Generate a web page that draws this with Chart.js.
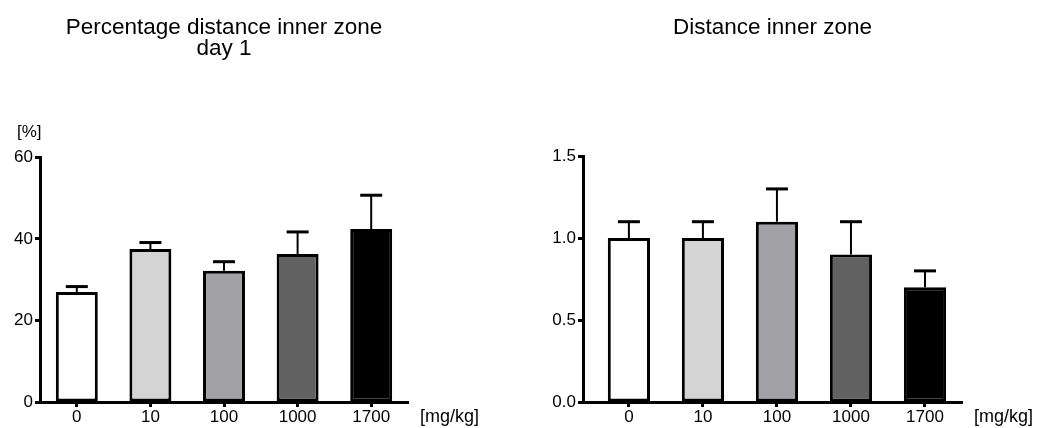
<!DOCTYPE html>
<html><head><meta charset="utf-8">
<script src="https://cdn.jsdelivr.net/npm/chart.js@4.4.1/dist/chart.umd.min.js"></script>
<style>
html,body{margin:0;padding:0;background:#fff;overflow:hidden}
#wrap{position:relative;width:1038px;height:428px}
canvas{position:absolute;top:0}
#c1{left:0}
#c2{left:519px}
</style></head><body>
<div id="wrap"><canvas id="c1" width="519" height="428"></canvas><canvas id="c2" width="519" height="428"></canvas></div>
<script>
const doses = ['0', '10', '100', '1000', '1700'];
const pctMeans = [27.0, 37.5, 32.2, 36.3, 42.4];
const pctErrors = [1.3, 1.6, 2.2, 5.4, 8.3];
const distMeans = [1.0, 1.0, 1.1, 0.9, 0.7];
const distErrors = [0.1, 0.1, 0.2, 0.2, 0.1];
const pctTicks = [0, 20, 40, 60];
const distTicks = [0.0, 0.5, 1.0, 1.5];
const barColors = ['#ffffff', '#d4d4d4', '#a2a1a6', '#616161', '#000000'];
const pctTitle = ['Percentage distance inner zone', 'day 1'];
const distTitle = ['Distance inner zone'];
const yUnit = '[%]';
const xUnit = '[mg/kg]';

const FONT = "'Liberation Sans', Arial, sans-serif";

const errorBars = {
  id: 'errorBars',
  afterDatasetsDraw(chart) {
    const ctx = chart.ctx;
    const ys = chart.scales.y;
    chart.data.datasets.forEach((ds, di) => {
      const meta = chart.getDatasetMeta(di);
      meta.data.forEach((el, i) => {
        const top = ys.getPixelForValue(ds.data[i].y + ds.errors[i]);
        ctx.save();
        ctx.strokeStyle = '#000';
        ctx.lineWidth = 2;
        ctx.beginPath();
        ctx.moveTo(el.x, el.y);
        ctx.lineTo(el.x, top);
        ctx.stroke();
        ctx.lineWidth = 3;
        ctx.beginPath();
        ctx.moveTo(el.x - 11, top);
        ctx.lineTo(el.x + 11, top);
        ctx.stroke();
        ctx.restore();
      });
    });
  }
};

const unitLabels = {
  id: 'unitLabels',
  afterDraw(chart, args, opts) {
    const ctx = chart.ctx;
    const a = chart.chartArea;
    ctx.save();
    ctx.fillStyle = '#000';
    ctx.textBaseline = 'middle';
    ctx.textAlign = 'left';
    if (opts.y) {
      ctx.font = '17px ' + FONT;
      ctx.fillText(opts.y, a.left - 23, a.top - 25);
    }
    if (opts.x) {
      ctx.font = '18px ' + FONT;
      ctx.fillText(opts.x, a.right + 12, a.bottom + 15);
    }
    ctx.restore();
  }
};

function makeChart(id, cfg) {
  return new Chart(document.getElementById(id), {
    type: 'bar',
    data: {
      datasets: [{
        data: cfg.means.map((v, i) => ({ x: i, y: v })),
        errors: cfg.errors,
        backgroundColor: barColors,
        borderColor: '#000',
        borderWidth: 3,
        borderSkipped: false,
        barPercentage: 0.57,
        categoryPercentage: 1
      }]
    },
    options: {
      responsive: false,
      animation: false,
      devicePixelRatio: 1,
      layout: { padding: { left: 0, right: cfg.padRight, top: 0, bottom: 0 } },
      plugins: {
        legend: { display: false },
        tooltip: { enabled: false },
        title: {
          display: true,
          text: cfg.title,
          fullSize: false,
          color: '#000',
          font: { family: FONT, size: 22.5, weight: 'normal', lineHeight: 0.94 },
          padding: { top: 17, bottom: cfg.titleBottom }
        },
        unitLabels: { x: xUnit, y: cfg.yUnit }
      },
      scales: {
        x: {
          type: 'linear',
          offset: false,
          min: cfg.xMin,
          max: doses.length - 0.5,
          afterBuildTicks: s => { s.ticks = doses.map((d, i) => ({ value: i })); },
          afterFit: s => { s.height = 26; },
          ticks: {
            color: '#000',
            font: { family: FONT, size: 17 },
            padding: 0,
            maxRotation: 0,
            autoSkip: false,
            callback: v => doses[v]
          },
          grid: { offset: false, drawOnChartArea: false, drawTicks: true, tickLength: 5, tickWidth: 3, tickColor: '#000' },
          border: { display: true, color: '#000', width: 3 }
        },
        y: {
          min: cfg.ticks[0],
          max: cfg.ticks[cfg.ticks.length - 1],
          afterBuildTicks: s => { s.ticks = cfg.ticks.map(v => ({ value: v })); },
          afterFit: s => { s.width = cfg.yWidth; },
          ticks: {
            color: '#000',
            font: { family: FONT, size: 17 },
            padding: 2,
            callback: cfg.fmt
          },
          grid: { drawOnChartArea: false, drawTicks: true, tickLength: 5, tickWidth: 3, tickColor: '#000' },
          border: { display: true, color: '#000', width: 3 }
        }
      }
    },
    plugins: [errorBars, unitLabels]
  });
}

makeChart('c1', {
  means: pctMeans, errors: pctErrors, ticks: pctTicks, fmt: v => String(v),
  title: pctTitle, titleBottom: 98, padRight: 111, yWidth: 40, xMin: -0.5, yUnit: yUnit
});
makeChart('c2', {
  means: distMeans, errors: distErrors, ticks: distTicks, fmt: v => v.toFixed(1),
  title: distTitle, titleBottom: 118, padRight: 76, yWidth: 64, xMin: -0.62, yUnit: null
});
</script>
</body></html>
